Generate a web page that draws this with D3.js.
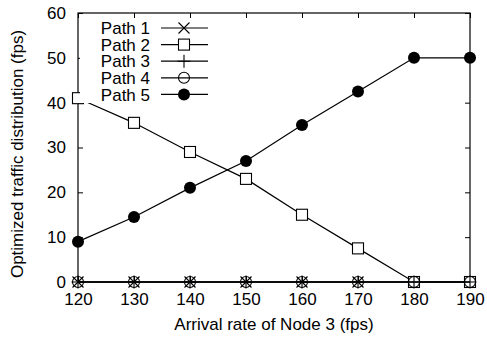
<!DOCTYPE html>
<html>
<head>
<meta charset="utf-8">
<script src="https://cdn.jsdelivr.net/npm/d3@7"></script>
<style>
  body { margin: 0; background: #fff; }
  svg { display: block; font-family: "Liberation Sans", Arial, sans-serif; }
</style>
</head>
<body>
<svg id="chart"></svg>
<script>
var rates = [120, 130, 140, 150, 160, 170, 180, 190];
var path1 = [0, 0, 0, 0, 0, 0, 0, 0];
var path2 = [41, 35.5, 29, 23, 15, 7.5, 0, 0];
var path3 = [0, 0, 0, 0, 0, 0, 0, 0];
var path4 = [0, 0, 0, 0, 0, 0, 0, 0];
var path5 = [9, 14.5, 21, 27, 35, 42.5, 50, 50];
var seriesNames = ["Path 1", "Path 2", "Path 3", "Path 4", "Path 5"];
var seriesMarkers = ["cross", "square", "plus", "circle", "dot"];
var yTicks = [0, 10, 20, 30, 40, 50, 60];

var svgWidth = 487, svgHeight = 338;
var margin = { top: 13, right: 17, bottom: 56, left: 78 };
var width = svgWidth - margin.left - margin.right;
var height = svgHeight - margin.top - margin.bottom;
var fontSize = "17px";

var svg = d3.select("#chart")
    .attr("width", svgWidth)
    .attr("height", svgHeight);

var g = svg.append("g")
    .attr("transform", "translate(" + margin.left + "," + margin.top + ")");

var x = d3.scaleLinear().domain([120, 190]).range([0, width]);
var y = d3.scaleLinear().domain([0, 60]).range([height, 0]);

function styleAxis(sel, hideText) {
    sel.select(".domain").remove();
    sel.selectAll("line").attr("stroke", "#000");
    sel.selectAll("text").attr("fill", "#000").attr("font-size", fontSize);
    if (hideText) sel.selectAll("text").remove();
}

g.append("g")
    .attr("transform", "translate(0," + height + ")")
    .call(d3.axisBottom(x).tickValues(rates).tickSize(-5).tickPadding(11).tickFormat(d3.format("d")))
    .call(styleAxis, false);
g.append("g")
    .call(d3.axisTop(x).tickValues(rates).tickSize(-5))
    .call(styleAxis, true);
g.append("g")
    .call(d3.axisLeft(y).tickValues(yTicks).tickSize(-5).tickPadding(12))
    .call(styleAxis, false);
g.append("g")
    .attr("transform", "translate(" + width + ",0)")
    .call(d3.axisRight(y).tickValues(yTicks).tickSize(-5))
    .call(styleAxis, true);

g.append("rect")
    .attr("width", width).attr("height", height)
    .attr("fill", "none").attr("stroke", "#000").attr("stroke-width", 1.2);

function drawMarker(sel, type) {
    if (type === "cross") {
        sel.append("path").attr("d", "M-5.5,-5.5L5.5,5.5M-5.5,5.5L5.5,-5.5").attr("stroke", "#000").attr("stroke-width", 1.1);
    } else if (type === "square") {
        sel.append("rect").attr("x", -5.5).attr("y", -5.5).attr("width", 11).attr("height", 11)
            .attr("fill", "#fff").attr("stroke", "#000").attr("stroke-width", 1.1);
    } else if (type === "plus") {
        sel.append("path").attr("d", "M-6.5,0L6.5,0M0,-6.5L0,6.5").attr("stroke", "#000").attr("stroke-width", 1.1);
    } else if (type === "circle") {
        sel.append("circle").attr("r", 5.5).attr("fill", "none").attr("stroke", "#000").attr("stroke-width", 1.1);
    } else {
        sel.append("circle").attr("r", 6).attr("fill", "#000");
    }
}

var line = d3.line()
    .x(function(d) { return x(d.rate); })
    .y(function(d) { return y(d.value); });

var allSeries = [path1, path2, path3, path4, path5];
allSeries.forEach(function(vals, i) {
    var data = rates.map(function(r, j) { return { rate: r, value: vals[j] }; });
    g.append("path")
        .datum(data)
        .attr("fill", "none")
        .attr("stroke", "#000")
        .attr("stroke-width", 1.2)
        .attr("d", line);
    g.selectAll(".m" + i)
        .data(data)
        .enter().append("g")
        .attr("transform", function(d) { return "translate(" + x(d.rate) + "," + y(d.value) + ")"; })
        .each(function() { drawMarker(d3.select(this), seriesMarkers[i]); });
});

// legend
var legend = g.append("g").attr("transform", "translate(0,15)");
seriesNames.forEach(function(name, i) {
    var row = legend.append("g").attr("transform", "translate(0," + (i * 16.6) + ")");
    row.append("rect").attr("x", 2).attr("y", -8).attr("width", 134).attr("height", 16.6).attr("fill", "#fff");
    row.append("text")
        .attr("x", 72).attr("dy", "0.36em")
        .attr("text-anchor", "end")
        .attr("font-size", fontSize)
        .text(name);
    row.append("line").attr("x1", 83).attr("x2", 130)
        .attr("stroke", "#000").attr("stroke-width", 1.2);
    var mk = row.append("g").attr("transform", "translate(106,0)");
    drawMarker(mk, seriesMarkers[i]);
});

svg.append("text")
    .attr("x", 274)
    .attr("y", 330)
    .attr("text-anchor", "middle")
    .attr("font-size", fontSize)
    .text("Arrival rate of Node 3 (fps)");

svg.append("text")
    .attr("transform", "translate(23,154) rotate(-90)")
    .attr("text-anchor", "middle")
    .attr("font-size", fontSize)
    .text("Optimized traffic distribution (fps)");
</script>
</body>
</html>
